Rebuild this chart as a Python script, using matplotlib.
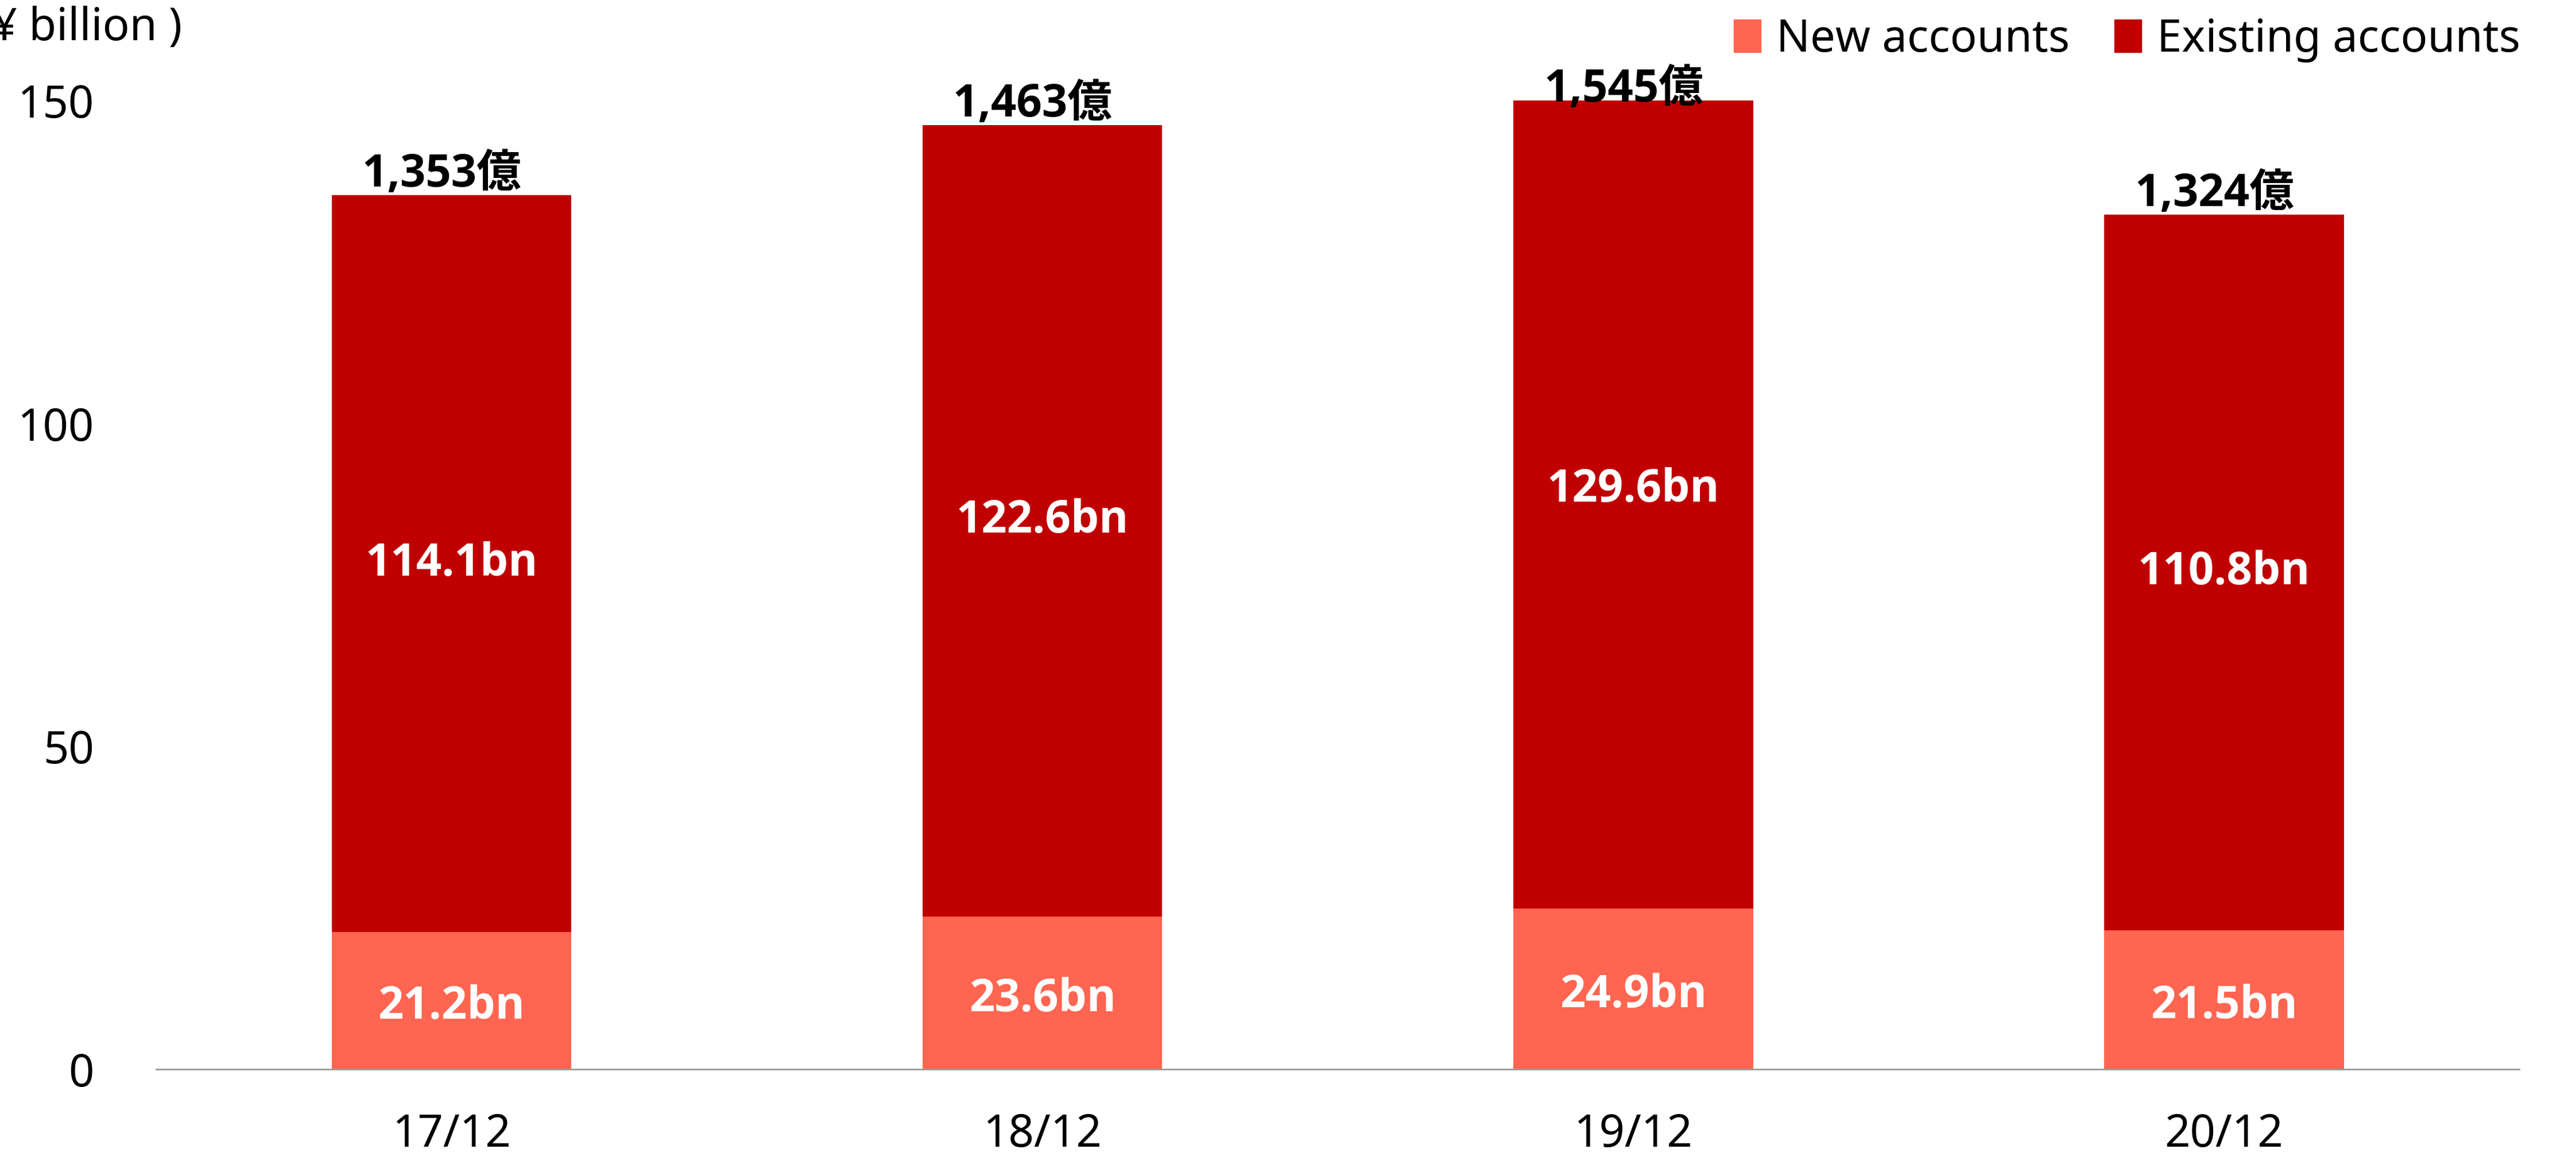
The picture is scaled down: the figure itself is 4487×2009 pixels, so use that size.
import matplotlib.pyplot as plt
import numpy as np
from matplotlib.patches import Patch

plt.rcParams['font.family'] = ['Noto Sans', 'Noto Sans CJK JP']
bold_family = ['Open Sans', 'Noto Sans CJK JP']

# data
periods = ['17/12', '18/12', '19/12', '20/12']
new_accounts = [21.2, 23.6, 24.9, 21.5]
existing_accounts = [114.1, 122.6, 129.6, 110.8]
total_labels = ['1,353億', '1,463億', '1,545億', '1,324億']

c_new = '#FF6550'
c_exist = '#C00000'

fig = plt.figure(figsize=(44.87, 20.09), dpi=100)
ax = fig.add_axes([0.0606, 0.0727, 0.9174, 0.8403])

x = np.arange(len(periods))
w = 0.406
ax.bar(x, new_accounts, w, color=c_new)
ax.bar(x, existing_accounts, w, bottom=new_accounts, color=c_exist)

ax.set_xlim(-0.5, 3.5)
ax.set_ylim(0, 150)
ax.set_yticks([0, 50, 100, 150])
ax.set_xticks(x)
ax.set_xticklabels(periods)
ax.tick_params(axis='y', length=0, pad=78, labelsize=56)
ax.tick_params(axis='x', length=0, pad=54, labelsize=56)

for s in ['top', 'right', 'left']:
    ax.spines[s].set_visible(False)
ax.spines['bottom'].set_color('#999999')
ax.spines['bottom'].set_linewidth(2)

# segment labels
for i in range(len(periods)):
    ax.text(x[i], new_accounts[i] / 2 - 1, f'{new_accounts[i]}bn', ha='center', va='center',
            color='white', fontsize=56, fontweight='bold', family=bold_family)
    ax.text(x[i], new_accounts[i] + existing_accounts[i] / 2, f'{existing_accounts[i]}bn',
            ha='center', va='center', color='white', fontsize=56, fontweight='bold', family=bold_family)
    top = min(new_accounts[i] + existing_accounts[i], 148.5)
    ax.annotate(total_labels[i], (x[i], top), xytext=(-12, -3), textcoords='offset points',
                ha='center', va='bottom', fontsize=56, fontweight='bold', family=bold_family,
                annotation_clip=False)

fig.text(317 / 4487, 1 - 50 / 2009, '( ¥ billion )', ha='right', va='center', fontsize=56)

handles = [Patch(color=c_new, label='New accounts'), Patch(color=c_exist, label='Existing accounts')]
fig.legend(handles=handles, loc='upper right', bbox_to_anchor=(0.994, 1.02), ncol=2, frameon=False,
           fontsize=56, handlelength=0.6, handleheight=0.75, handletextpad=0.35, columnspacing=1.0)

fig.savefig('out.png', dpi=100)
